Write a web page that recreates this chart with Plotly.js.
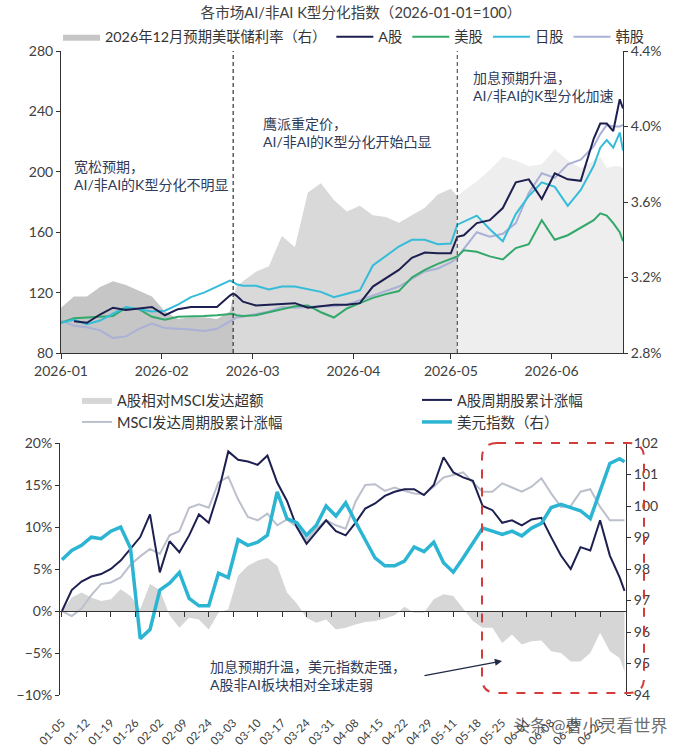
<!DOCTYPE html>
<html>
<head>
<meta charset="utf-8">
<script src="https://cdn.plot.ly/plotly-3.0.1.min.js"></script>
<style>
html,body{margin:0;padding:0;background:#fff;}
#chart{width:682px;height:753px;}
</style>
</head>
<body>
<div id="chart"></div>
<script>
// ---------- TOP CHART DATA ----------
const topDates = ['2026-01-01','2026-01-05','2026-01-09','2026-01-13','2026-01-17','2026-01-21','2026-01-25','2026-01-29',
  '2026-02-02','2026-02-06','2026-02-10','2026-02-14','2026-02-18','2026-02-22','2026-02-23','2026-02-24','2026-02-26',
  '2026-03-02','2026-03-06','2026-03-10','2026-03-14','2026-03-18','2026-03-22','2026-03-26','2026-03-30',
  '2026-04-03','2026-04-07','2026-04-11','2026-04-15','2026-04-19','2026-04-23','2026-04-27',
  '2026-05-01','2026-05-03','2026-05-05','2026-05-09','2026-05-13','2026-05-17','2026-05-21','2026-05-25','2026-05-29',
  '2026-06-02','2026-06-06','2026-06-10','2026-06-14','2026-06-16','2026-06-18','2026-06-20','2026-06-22','2026-06-23'];
const aShare  = [null,101,100,105.5,110,108.5,109.5,110.5, 105,109,110.5,110.5,110.5,118,119.5,118,114,
  111.5,112,112.5,113,110,111,112,112, 113,124,129.5,135,143,146.5,146, 146,157,158,166,168,176,193,195,182,
  199,195,194,222,232,232,227,248,242];
const usShare = [100,103,103.5,104,104.5,110,109,104, 102,104,104,104.5,105,106,106,105,104.5,
  105,107,109.5,111,111.5,107,103.5,109.5, 113,116.5,119,121,130,135,139, 142,144,148,147,144,142,149.5,152,168,
  155,158,163,168,172.5,171,166,160,154];
const jpShare = [100,102,99,101.5,106,110.5,109,107.5, 108,112,117,120,124,128,127,125.5,124.5,
  124.5,122,124,124,122,120.5,117,119, 121.5,138,144,150.5,155,155,152, 152.5,165,167,171,162,154,172,184,193,
  190,177.5,188,204,216,221,216,226,214];
const krShare = [101.5,98,97,95,90,91,96,99.5, 96.5,96,95.5,94.5,96,101,102,103.5,104,
  106,107.5,110.5,110,110.5,111,111,112, 115,118,121,124,129,134,136, 140,143,149,160,157,159,166,186,199,
  196,205,208,217,225,231,230,230,231];
const fedRate = [3.04,3.10,3.10,3.15,3.18,3.16,3.13,3.10, 3.02,2.98,2.99,2.99,2.98,3.02,3.10,3.15,3.18,
  3.23,3.26,3.42,3.36,3.65,3.70,3.61,3.55, 3.58,3.53,3.52,3.49,3.53,3.57,3.64, 3.67,3.63,3.66,3.71,3.77,3.84,3.82,3.79,3.80,
  3.88,3.82,3.78,3.82,3.84,3.78,3.79,3.79,3.78];
const regimeBreaks = ['2026-02-23','2026-05-03'];

// ---------- BOTTOM CHART DATA ----------
const btmIdx = [0,2,4,6,8,10,12,14,16,18,20,22,24,26,28,30,32,34,36,38,40,42,44,46,48,50,52,54,56,58,
  60,62,64,66,68,70,72,74,76,78,80,82,84,86,88,90,92,94,96,98,100,102,104,106,108,110,112,114,115];
const aCycle = [0,2.5,3.5,4.1,4.4,5.0,6.0,7.4,8.8,11.5, 4.6,8.3,7.0,9.0,11.5,10.5,14.2,19.0,18.0,17.8,
  17.4,18.5,15.3,13.1,10.0,8.0,9.4,10.8,9.5,9.0, 10.5,12.2,12.8,13.7,14.2,14.5,14.5,13.8,15.0,18.3,
  16.5,15.9,15.5,12.5,12.0,10.5,10.8,10.2,10.9,11.1, 8.8,6.6,5.0,7.6,7.2,10.8,6.6,4.0,2.4];
const msciCycle = [0,-0.6,0.3,1.9,3.2,3.4,4.0,5.5,6.5,7.4, 6.8,9.0,9.5,12.3,12.7,12.3,15.3,16.0,13.3,11.2,
  10.8,11.6,10.2,10.9,10.0,8.4,9.8,10.8,10.2,9.8, 13.0,15.0,15.1,14.3,14.7,14.3,14.0,13.9,14.8,15.9,
  16.2,16.5,15.3,14.2,14.2,15.2,14.7,14.2,14.8,15.8, 14.0,12.4,12.5,14.2,14.5,12.4,10.8,10.8,10.8];
const excess = [0,1.6,2.2,1.6,1.2,1.4,2.6,1.8,0.2,3.2, 2.5,-0.5,-2.0,-0.8,-1.0,-2.2,-0.2,0.2,4.2,5.4,
  6.0,6.3,5.4,2.2,0.9,-0.8,-1.4,-1.0,-2.2,-2.0, -1.6,-1.3,-1.2,-0.9,-0.5,0.5,-0.2,-0.2,1.4,2.0,
  1.8,0.3,-1.2,-2.0,-2.0,-3.8,-2.8,-4.0,-3.6,-3.5, -4.8,-5.0,-6.0,-6.0,-5.0,-2.6,-4.8,-5.6,-7.2];
const usdIndex = [98.29,98.59,98.75,99.01,98.96,99.20,99.33,98.67,95.79,96.08, 97.33,97.55,97.89,97.07,96.83,96.83,97.87,97.73,98.93,98.75,
  98.85,99.07,100.45,99.60,99.47,99.07,99.39,100.00,99.68,100.10, 99.50,98.90,98.35,98.10,98.10,98.25,98.70,98.55,98.85,98.20,
  97.90,98.35,98.85,99.30,99.20,99.10,99.20,99.05,99.30,99.45, 99.95,100.05,99.95,99.85,99.60,100.50,101.35,101.50,101.40];
const btmTickIdx = [0,5,10,15,20,25,30,35,40,45,50,55,60,65,70,75,80,85,90,95,100,105,110];
const btmTickLabels = ['01-05','01-12','01-19','01-26','02-02','02-09','02-24','03-03','03-10','03-17','03-24','03-31',
  '04-08','04-15','04-22','04-29','05-11','05-18','05-25','06-01','06-08','06-15','06-23'];

// ---------- LAYOUT HELPERS ----------
const W = 682, H = 753;
const fx = p => p / W;
const fy = p => 1 - p / H;
const FONT = "Lato, 'Noto Sans CJK SC', sans-serif";
const TXT = '#404040';
const NOTE = '#2f3b58';

function segment(from, to) {
  const x = [], y = [];
  topDates.forEach((d, i) => { if (d >= from && d <= to) { x.push(d); y.push(fedRate[i]); } });
  return {x, y};
}
const s1 = segment('2026-01-01', regimeBreaks[0]);
const s2 = segment(regimeBreaks[0], regimeBreaks[1]);
const s3 = segment(regimeBreaks[1], '2026-06-23');

const traces = [
  {x: s1.x, y: s1.y, xaxis:'x', yaxis:'y', type:'scatter', mode:'lines', fill:'tozeroy',
   fillcolor:'#c6c6c6', line:{width:0, color:'#c6c6c6'}, name:'2026年12月预期美联储利率（右）', legendrank:1, legend:'legend'},
  {x: s2.x, y: s2.y, xaxis:'x', yaxis:'y', type:'scatter', mode:'lines', fill:'tozeroy',
   fillcolor:'#d9d9d9', line:{width:0, color:'#d9d9d9'}, showlegend:false},
  {x: s3.x, y: s3.y, xaxis:'x', yaxis:'y', type:'scatter', mode:'lines', fill:'tozeroy',
   fillcolor:'#eeeeee', line:{width:0, color:'#eeeeee'}, showlegend:false},
  {x: topDates, y: krShare, xaxis:'x', yaxis:'y2', type:'scatter', mode:'lines', name:'韩股',
   line:{color:'#aab0d6', width:2}, legendrank:5, legend:'legend'},
  {x: topDates, y: usShare, xaxis:'x', yaxis:'y2', type:'scatter', mode:'lines', name:'美股',
   line:{color:'#32a86a', width:2}, legendrank:3, legend:'legend'},
  {x: topDates, y: jpShare, xaxis:'x', yaxis:'y2', type:'scatter', mode:'lines', name:'日股',
   line:{color:'#35bcd8', width:2}, legendrank:4, legend:'legend'},
  {x: topDates, y: aShare, xaxis:'x', yaxis:'y2', type:'scatter', mode:'lines', name:'A股',
   line:{color:'#1c1f4f', width:2}, legendrank:2, legend:'legend'},

  {x: btmIdx, y: excess, xaxis:'x2', yaxis:'y3', type:'scatter', mode:'lines', fill:'tozeroy',
   fillcolor:'#d6d6d6', line:{width:0, color:'#d6d6d6'}, name:'A股相对MSCI发达超额', legend:'legend2'},
  {x: btmIdx, y: msciCycle, xaxis:'x2', yaxis:'y3', type:'scatter', mode:'lines', name:'MSCI发达周期股累计涨幅',
   line:{color:'#bcc0cc', width:2}, legend:'legend4'},
  {x: btmIdx, y: aCycle, xaxis:'x2', yaxis:'y3', type:'scatter', mode:'lines', name:'A股周期股累计涨幅',
   line:{color:'#1c1f4f', width:2}, legend:'legend3'},
  {x: btmIdx, y: usdIndex, xaxis:'x2', yaxis:'y4', type:'scatter', mode:'lines', name:'美元指数（右）',
   line:{color:'#2cb5d3', width:3.5}, legend:'legend5'},
  {x: [0], y: [0], xaxis:'x3', yaxis:'y3', type:'scatter', mode:'markers', marker:{opacity:0},
   showlegend:false, hoverinfo:'skip'}
];

const axisBase = {showline:true, linecolor:'#333', linewidth:1, ticks:'outside', ticklen:4, tickcolor:'#333',
  showgrid:false, zeroline:false, tickfont:{size:14, color:TXT, family:FONT}, automargin:false};

const rx = 15 / W, ry = 15 / H;
const bx0 = fx(482), bx1 = fx(644), byT = fy(443), byB = fy(693);
const roundRect = `M${bx0+rx},${byT} L${bx1-rx},${byT} Q${bx1},${byT} ${bx1},${byT-ry} L${bx1},${byB+ry} Q${bx1},${byB} ${bx1-rx},${byB} L${bx0+rx},${byB} Q${bx0},${byB} ${bx0},${byB+ry} L${bx0},${byT-ry} Q${bx0},${byT} ${bx0+rx},${byT} Z`;

function itemLegend(xPx, yPx) {
  return {orientation:'h', x:fx(xPx), xanchor:'left', y:fy(yPx), yanchor:'middle',
    font:{size:14.5, color:'#333', family:FONT}, bgcolor:'rgba(0,0,0,0)', itemwidth:30};
}

const layout = {
  width: W, height: H,
  margin:{l:0, r:0, t:0, b:0},
  paper_bgcolor:'#fff', plot_bgcolor:'rgba(0,0,0,0)',
  font:{family:FONT, color:TXT, size:13},
  hovermode:false,
  title:{text:'各市场AI/非AI K型分化指数（2026-01-01=100）', x:fx(361), xanchor:'center', y:fy(13), yanchor:'middle',
    font:{size:14.6, color:TXT, family:FONT}},
  xaxis: Object.assign({}, axisBase, {domain:[fx(61), fx(623)], anchor:'y', type:'date',
    range:['2026-01-01','2026-06-23'], dtick:'M1', tick0:'2026-01-01', tickformat:'%Y-%m', ticklen:5}),
  yaxis: Object.assign({}, axisBase, {domain:[fy(353), fy(51)], anchor:'x', side:'right',
    range:[2.8, 4.4], tick0:2.8, dtick:0.4, tickformat:'.1f', ticksuffix:'%'}),
  yaxis2: Object.assign({}, axisBase, {overlaying:'y', anchor:'x', side:'left', range:[80, 280], dtick:40}),

  xaxis2: Object.assign({}, axisBase, {domain:[fx(60), fx(626)], anchor:'y3', range:[-0.4, 115.3],
    showline:false, ticks:'', tickvals:btmTickIdx, ticktext:btmTickLabels, tickangle:-45,
    ticklabelstandoff:18, tickfont:{size:11.5, color:TXT, family:FONT}}),
  xaxis3: Object.assign({}, axisBase, {overlaying:'x2', anchor:'free', position:fy(610.5), range:[-0.4, 115.3],
    tickvals:btmTickIdx, showticklabels:false, ticklen:5, linewidth:1.3}),
  yaxis3: Object.assign({}, axisBase, {domain:[fy(695), fy(443)], anchor:'x2', range:[-10, 20], dtick:5, ticksuffix:'%'}),
  yaxis4: Object.assign({}, axisBase, {overlaying:'y3', anchor:'x2', side:'right', range:[94, 102], dtick:1}),

  legend:{orientation:'h', x:fx(58), xanchor:'left', y:fy(37), yanchor:'middle',
    font:{size:14.3, color:'#333', family:FONT}, bgcolor:'rgba(0,0,0,0)', itemwidth:37, traceorder:'normal'},
  legend2: itemLegend(77, 400),
  legend3: itemLegend(417, 400),
  legend4: itemLegend(77, 422),
  legend5: itemLegend(417, 422),

  shapes:[
    {type:'line', xref:'x', yref:'y domain', x0:regimeBreaks[0], x1:regimeBreaks[0], y0:0, y1:1,
      line:{color:'#333', width:1.2, dash:'4px,3px'}},
    {type:'line', xref:'x', yref:'y domain', x0:regimeBreaks[1], x1:regimeBreaks[1], y0:0, y1:1,
      line:{color:'#555', width:1.2, dash:'4px,3px'}},
    {type:'path', xref:'paper', yref:'paper', path:roundRect, line:{color:'#d43b3b', width:2, dash:'dash'}}
  ],
  annotations:[
    {xref:'paper', yref:'paper', x:fx(72), y:fy(156), xanchor:'left', yanchor:'top', align:'left', showarrow:false,
      text:'宽松预期，<br>AI/非AI的K型分化不明显', font:{size:14, color:NOTE, family:FONT}},
    {xref:'paper', yref:'paper', x:fx(261), y:fy(113), xanchor:'left', yanchor:'top', align:'left', showarrow:false,
      text:'鹰派重定价，<br>AI/非AI的K型分化开始凸显', font:{size:14, color:NOTE, family:FONT}},
    {xref:'paper', yref:'paper', x:fx(471), y:fy(67), xanchor:'left', yanchor:'top', align:'left', showarrow:false,
      text:'加息预期升温，<br>AI/非AI的K型分化加速', font:{size:14, color:NOTE, family:FONT}},
    {xref:'paper', yref:'paper', x:fx(208), y:fy(656), xanchor:'left', yanchor:'top', align:'left', showarrow:false,
      text:'加息预期升温，美元指数走强，<br>A股非AI板块相对全球走弱', font:{size:14, color:NOTE, family:FONT}},
    {xref:'paper', yref:'paper', x:fx(502), y:fy(661), ax:-79, ay:15, axref:'pixel', ayref:'pixel', text:'',
      showarrow:true, arrowhead:2, arrowsize:1.1, arrowwidth:1.3, arrowcolor:'#1f2a44'},
    {xref:'paper', yref:'paper', x:fx(590), y:fy(725), xanchor:'center', yanchor:'middle', showarrow:false,
      text:'头条 @曹小灵看世界', font:{size:17, color:'rgba(70,70,70,0.8)', family:FONT}}
  ]
};

Plotly.newPlot('chart', traces, layout, {displayModeBar:false, staticPlot:true});
</script>
</body>
</html>
